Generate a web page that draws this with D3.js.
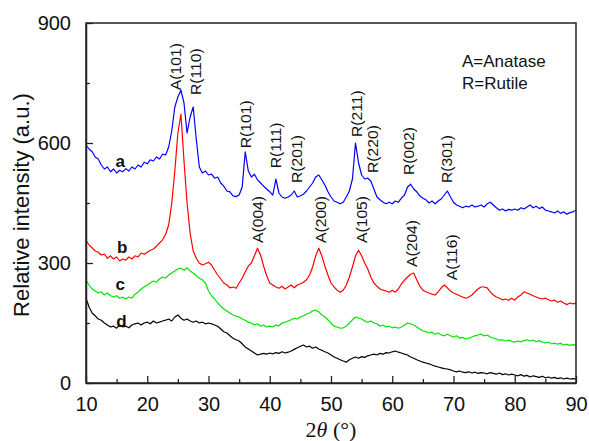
<!DOCTYPE html>
<html><head><meta charset="utf-8">
<script src="https://cdn.jsdelivr.net/npm/d3@7"></script>
<style>body{margin:0;background:#fff}svg{display:block}</style>
</head><body><svg id="c" width="589" height="441"></svg>
<script>
// 2theta from 10 to 90 in steps of 0.5 degrees
const twoTheta = d3.range(0, 161).map(i => 10 + i * 0.5);

const seriesA = [
595,585,578,565,560,545,535,540,528,535,
525,532,528,536,530,540,535,545,540,552,
548,558,555,565,560,572,570,590,630,690,
715,732,700,625,665,690,610,540,525,530,
520,522,512,515,500,492,480,478,468,466,
470,490,578,530,515,522,508,500,492,485,
478,470,510,475,465,462,465,470,480,465,
468,472,480,490,500,515,520,508,495,478,
465,455,452,448,452,465,480,510,600,550,
520,510,512,505,485,465,458,452,448,452,
448,455,452,462,470,490,497,485,478,468,
462,458,450,455,448,455,460,470,480,465,
452,445,442,438,442,440,445,440,442,445,
440,448,452,445,438,432,435,430,434,432,
435,432,438,435,440,445,438,442,436,440,
432,430,428,425,430,424,428,422,426,428,
432];

const seriesB = [
357,345,338,330,327,320,322,312,318,310,
315,305,310,307,315,310,318,315,325,322,
327,332,335,342,350,358,372,395,450,530,
625,672,555,450,375,330,312,300,295,298,
302,295,282,270,260,250,245,238,240,237,
250,262,278,292,300,318,337,320,292,268,
250,245,240,237,242,235,240,245,238,245,
248,252,258,270,290,318,337,318,292,270,
250,240,232,227,232,245,265,290,318,332,
318,300,285,265,250,242,235,232,230,227,
232,227,235,248,257,265,272,275,258,242,
232,228,225,222,220,228,238,245,238,230,
225,222,218,215,212,215,220,228,235,240,
240,238,228,220,215,212,208,210,207,212,
207,215,220,228,225,222,218,215,212,210,
212,208,205,207,202,205,200,196,200,198,
200];

const seriesC = [
257,245,235,230,225,228,220,225,218,215,
218,212,215,210,215,212,222,227,235,240,
245,250,255,252,260,265,262,270,275,280,
285,287,282,288,280,275,268,262,258,250,
230,218,210,200,192,185,180,175,170,167,
165,160,157,152,150,145,148,142,145,140,
142,140,145,143,150,152,155,158,162,160,
165,168,172,175,180,182,178,170,165,158,
150,142,140,137,138,142,150,158,165,162,
160,155,152,155,150,148,142,145,140,142,
138,140,137,140,145,150,148,145,140,135,
130,128,125,127,122,125,120,118,122,118,
115,118,112,114,110,112,115,118,120,122,
118,120,115,112,110,107,108,105,107,104,
102,105,103,106,108,105,107,103,106,102,
100,102,98,100,97,99,95,97,94,96,
95];

const seriesD = [
212,190,175,168,160,157,150,145,140,142,
137,145,140,142,138,145,148,150,145,150,
152,148,155,150,152,155,157,160,155,165,
170,162,157,160,155,152,155,150,152,148,
150,148,145,142,135,128,125,118,112,108,
105,98,90,85,80,75,70,72,74,72,
75,73,76,74,78,75,77,80,84,88,
92,95,90,92,87,90,85,82,78,75,
70,65,62,58,55,52,58,62,65,62,
66,64,68,70,72,70,74,72,76,75,
78,80,77,75,72,70,65,62,58,55,
52,50,48,45,42,40,38,36,35,33,
30,28,30,27,26,28,25,27,24,26,
25,23,26,24,22,25,21,23,20,22,
20,18,21,17,19,15,18,16,14,17,
13,15,12,14,11,13,10,12,10,11,
10];

const seriesNames = ["a", "b", "c", "d"];
const seriesColors = ["#0000ff", "#ff0000", "#00e400", "#000000"];
const seriesLabelX = [15.6, 15.9, 15.6, 15.8];
const seriesLabelY = [540, 325, 232, 140];

const peakLabels = ["A(101)","R(110)","R(101)","R(111)","R(201)","R(211)","R(220)","R(002)","R(301)",
                    "A(004)","A(200)","A(105)","A(204)","A(116)"];
const peakX = [24.7, 28.0, 36.2, 41.1, 44.5, 54.3, 56.8, 62.8, 68.9, 38.0, 48.3, 55.0, 63.3, 69.7];
const peakY = [732, 720, 587, 537, 500, 615, 525, 520, 500, 350, 350, 350, 290, 257];

const legendLines = ["A=Anatase", "R=Rutile"];

const xTicks = [10, 20, 30, 40, 50, 60, 70, 80, 90];
const xMinor = [15, 25, 35, 45, 55, 65, 75, 85];
const yTicks = [0, 300, 600, 900];
const yMinor = [150, 450, 750];

const W = 589, H = 441;
const m = {left: 86, right: 13, top: 23, bottom: 58};
const svg = d3.select("#c");
const x = d3.scaleLinear().domain([10, 90]).range([m.left, W - m.right]);
const y = d3.scaleLinear().domain([0, 900]).range([H - m.bottom, m.top]);
const font = "'Liberation Sans', Arial, sans-serif";

const allSeries = [seriesA, seriesB, seriesC, seriesD];
const line = d3.line().x((d, i) => x(twoTheta[i])).y(d => y(d));

// draw curves (d first so colour order stacks like reference)
[3, 2, 1, 0].forEach(k => {
  svg.append("path").datum(allSeries[k])
    .attr("d", line).attr("fill", "none")
    .attr("stroke", seriesColors[k]).attr("stroke-width", 1.2)
    .attr("stroke-linejoin", "round");
});

// frame
svg.append("rect").attr("x", x(10)).attr("y", y(900))
  .attr("width", x(90) - x(10)).attr("height", y(0) - y(900))
  .attr("fill", "none").attr("stroke", "#222").attr("stroke-width", 1.5);

// axes with inward ticks
const xAxis = d3.axisBottom(x).tickValues(xTicks).tickSizeInner(-7).tickSizeOuter(0).tickPadding(14);
const gx = svg.append("g").attr("transform", `translate(0,${y(0)})`).call(xAxis);
gx.selectAll(".tick line").attr("stroke", "#222").attr("stroke-width", 1.3);
gx.select(".domain").attr("stroke", "#222").attr("stroke-width", 1.5);
gx.selectAll("text").attr("font-family", font).attr("font-size", 20).attr("fill", "#111");
const gxm = svg.append("g").attr("transform", `translate(0,${y(0)})`)
  .call(d3.axisBottom(x).tickValues(xMinor).tickSizeInner(-4).tickSizeOuter(0).tickFormat(""));
gxm.select(".domain").remove();
gxm.selectAll(".tick line").attr("stroke", "#222").attr("stroke-width", 1.3);

const yAxis = d3.axisLeft(y).tickValues(yTicks).tickSizeInner(-7).tickSizeOuter(0).tickPadding(15);
const gy = svg.append("g").attr("transform", `translate(${x(10)},0)`).call(yAxis);
gy.selectAll(".tick line").attr("stroke", "#222").attr("stroke-width", 1.3);
gy.select(".domain").attr("stroke", "#222").attr("stroke-width", 1.5);
gy.selectAll("text").attr("font-family", font).attr("font-size", 20).attr("fill", "#111");
const gym = svg.append("g").attr("transform", `translate(${x(10)},0)`)
  .call(d3.axisLeft(y).tickValues(yMinor).tickSizeInner(-4).tickSizeOuter(0).tickFormat(""));
gym.select(".domain").remove();
gym.selectAll(".tick line").attr("stroke", "#222").attr("stroke-width", 1.3);

// axis titles
svg.append("text").attr("transform", `translate(29,${(y(0) + y(900)) / 2 + 2}) rotate(-90)`)
  .attr("text-anchor", "middle").attr("font-family", font).attr("font-size", 22).attr("fill", "#111")
  .text("Relative intensity (a.u.)");
const xt = svg.append("text").attr("x", 331).attr("y", 437).attr("text-anchor", "middle")
  .attr("font-family", "'Liberation Serif', 'Times New Roman', serif").attr("font-size", 22).attr("fill", "#111");
xt.append("tspan").text("2");
xt.append("tspan").attr("font-style", "italic").text("θ");
xt.append("tspan").text(" (°)");

// peak labels
peakLabels.forEach((t, i) => {
  svg.append("text")
    .attr("transform", `translate(${x(peakX[i]) + 5},${y(peakY[i])}) rotate(-90) scale(1.12,1)`)
    .attr("font-family", font).attr("font-size", 14).attr("fill", "#111")
    .text(t);
});

// series labels
seriesNames.forEach((t, i) => {
  svg.append("text").attr("x", x(seriesLabelX[i])).attr("y", y(seriesLabelY[i]))
    .attr("text-anchor", "middle").attr("font-family", font).attr("font-weight", "bold")
    .attr("font-size", 17).attr("fill", "#111").text(t);
});

// legend text
legendLines.forEach((t, i) => {
  svg.append("text").attr("x", 462).attr("y", 67 + i * 22)
    .attr("font-family", font).attr("font-size", 17).attr("fill", "#111").text(t);
});
</script>
</body></html>
